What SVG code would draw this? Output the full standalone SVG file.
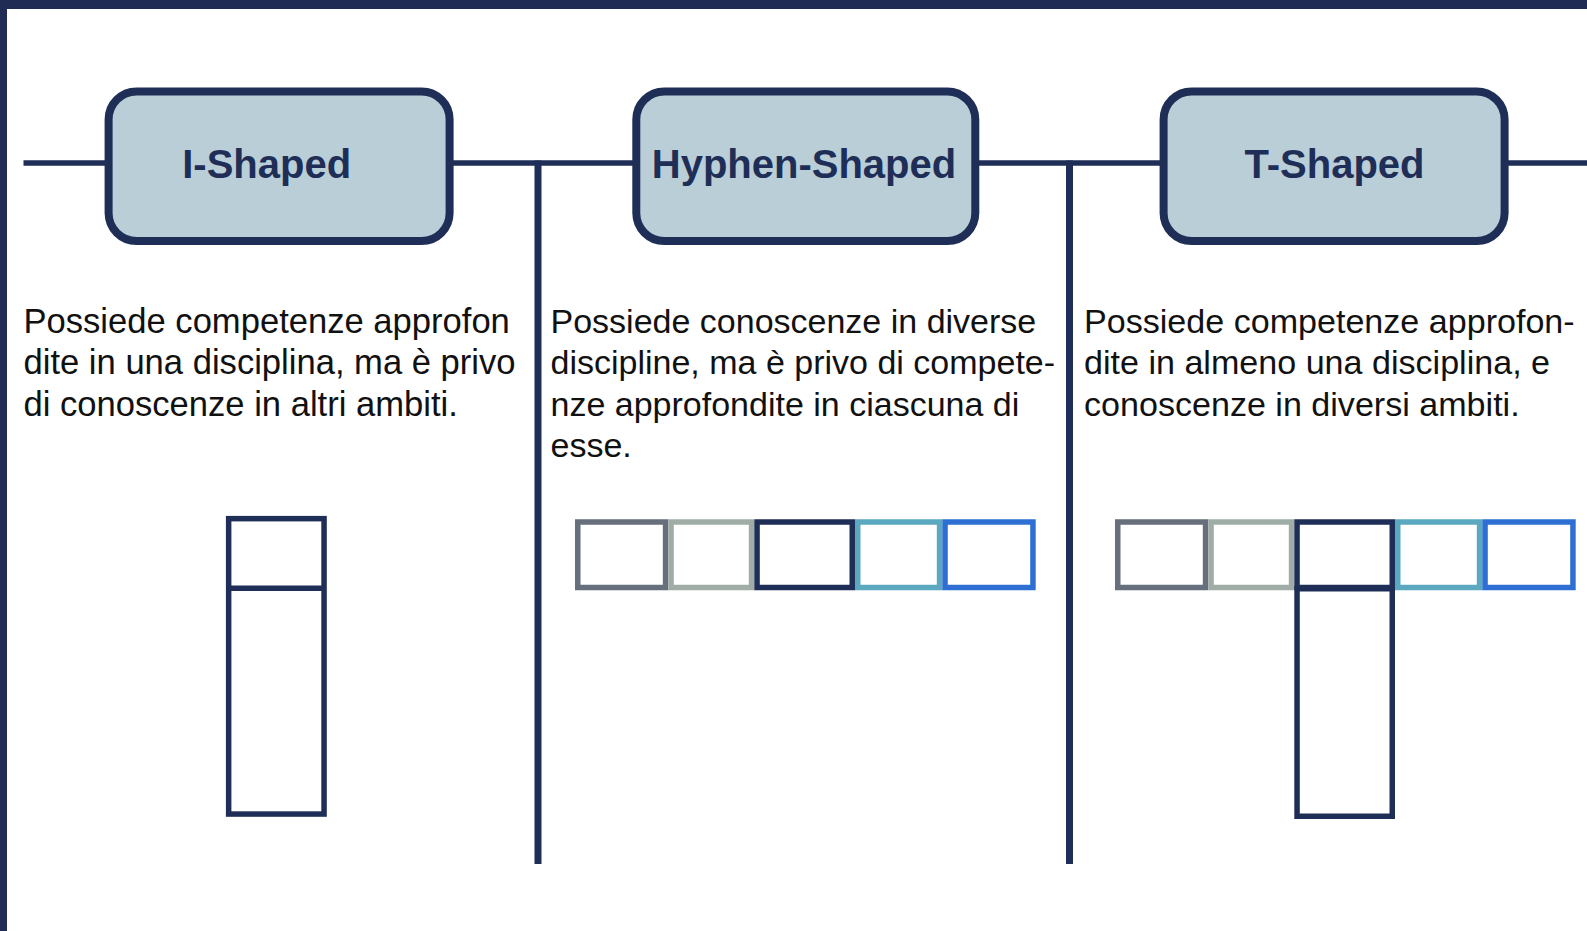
<svg xmlns="http://www.w3.org/2000/svg" width="1587" height="931" viewBox="0 0 1587 931">
<style>
.node rect{fill:#b9ced7;stroke:#1f2e57;stroke-width:8}
.node text{font-family:"Liberation Sans",Arial,Helvetica,sans-serif;font-weight:bold;font-size:40px;fill:#1f2e57;text-anchor:middle}
.conn line{stroke:#1f2e57;stroke-width:5.5}
.conn .v{stroke-width:7}
.desc{font-family:"Liberation Sans",Arial,Helvetica,sans-serif;font-size:34px;fill:#111111}
.sq{fill:none;stroke-width:5.5}
.c1{stroke:#666f7b}.c2{stroke:#a0ada6}.c3{stroke:#1f2e57}.c4{stroke:#5aa9c0}.c5{stroke:#2d6fd2}
</style>
<rect x="0" y="0" width="1587" height="931" fill="#ffffff"/>
<rect x="0" y="0" width="1587" height="9" fill="#212c54"/>
<rect x="0" y="0" width="7" height="931" fill="#212c54"/>
<g id="connectors" class="conn">
<line x1="23.5" y1="163" x2="106" y2="163"/>
<line x1="452" y1="163" x2="634" y2="163"/>
<line x1="978" y1="163" x2="1162" y2="163"/>
<line x1="1507" y1="163" x2="1587" y2="163"/>
<line class="v" x1="538" y1="160.5" x2="538" y2="864"/>
<line class="v" x1="1069.5" y1="160.5" x2="1069.5" y2="864"/>
</g>
<g id="node-i-shaped" class="node">
<rect x="108.6" y="91.5" width="341" height="149.5" rx="28"/>
<text x="266.7" y="177.5">I-Shaped</text>
</g>
<g id="node-hyphen-shaped" class="node">
<rect x="636.3" y="91.5" width="339" height="149.5" rx="28"/>
<text x="804" y="177.5">Hyphen-Shaped</text>
</g>
<g id="node-t-shaped" class="node">
<rect x="1163.6" y="91.5" width="341" height="149.5" rx="28"/>
<text x="1334.5" y="177.5">T-Shaped</text>
</g>
<g id="desc-i" class="desc" style="font-size:34.6px">
<text x="23.5" y="332.5">Possiede competenze approfon</text>
<text x="23.5" y="374">dite in una disciplina, ma è privo</text>
<text x="23.5" y="415.5">di conoscenze in altri ambiti.</text>
</g>
<g id="desc-hyphen" class="desc">
<text x="550.5" y="332.5">Possiede conoscenze in diverse</text>
<text x="550.5" y="374">discipline, ma è privo di compete-</text>
<text x="550.5" y="415.5">nze approfondite in ciascuna di</text>
<text x="550.5" y="457">esse.</text>
</g>
<g id="desc-t" class="desc" style="font-size:34.1px">
<text x="1084" y="332.5">Possiede competenze approfon-</text>
<text x="1084" y="374">dite in almeno una disciplina, e</text>
<text x="1084" y="415.5">conoscenze in diversi ambiti.</text>
</g>
<g id="shape-i">
<rect class="sq c3" x="228.65" y="518.65" width="95.4" height="295.4"/>
<line x1="228.65" y1="588.3" x2="324.05" y2="588.3" stroke="#1f2e57" stroke-width="5.5"/>
</g>
<g id="shape-hyphen">
<rect class="sq c1" x="577.75" y="522" width="87.8" height="65.5"/>
<rect class="sq c2" x="671.05" y="522" width="80.5" height="65.5"/>
<rect class="sq c3" x="757.05" y="522" width="95.2" height="65.5"/>
<rect class="sq c4" x="857.75" y="522" width="81.8" height="65.5"/>
<rect class="sq c5" x="945.05" y="522" width="87.9" height="65.5"/>
</g>
<g id="shape-t">
<rect class="sq c1" x="1117.75" y="522" width="87.8" height="65.5"/>
<rect class="sq c2" x="1211.05" y="522" width="80.5" height="65.5"/>
<rect class="sq c4" x="1397.75" y="522" width="81.8" height="65.5"/>
<rect class="sq c5" x="1485.05" y="522" width="87.9" height="65.5"/>
<rect class="sq c3" x="1297.05" y="588.75" width="95.2" height="227.5"/>
<rect class="sq c3" x="1297.05" y="522" width="95.2" height="65.5"/>
</g>
</svg>
